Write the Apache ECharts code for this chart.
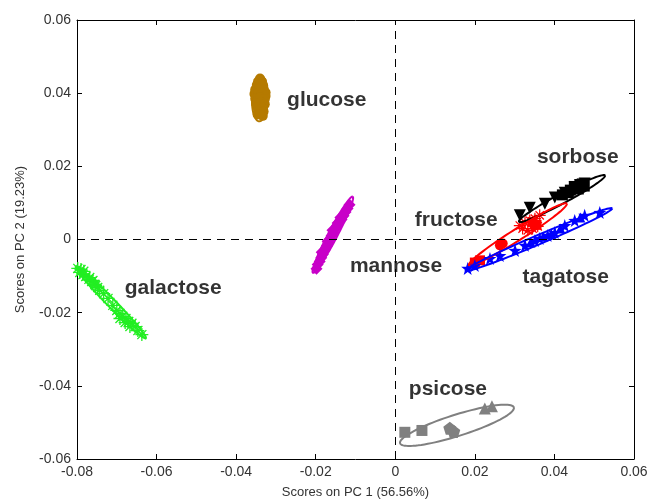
<!DOCTYPE html>
<html><head><meta charset="utf-8">
<script src="https://cdn.jsdelivr.net/npm/echarts@6/dist/echarts.min.js"></script>
<style>html,body{margin:0;padding:0;background:#fff}#c{width:649px;height:499px}</style>
</head><body><div id="c"></div>
<script>
// ---- data ----
const xTickValues = [-0.08, -0.06, -0.04, -0.02, 0, 0.02, 0.04, 0.06];
const yTickValues = [-0.06, -0.04, -0.02, 0, 0.02, 0.04, 0.06];
const xTitle = 'Scores on PC 1 (56.56%)';
const yTitle = 'Scores on PC 2 (19.23%)';

const galactoseScores = [[-0.0798,-0.0079],[-0.0793,-0.0090],[-0.0785,-0.0096],[-0.0778,-0.0101],[-0.0770,-0.0109],[-0.0763,-0.0115],[-0.0755,-0.0123],[-0.0748,-0.0131],[-0.0783,-0.0087],[-0.0768,-0.0104],[-0.0753,-0.0126],[-0.0743,-0.0139],[-0.0733,-0.0148],[-0.0722,-0.0161],[-0.0710,-0.0180],[-0.0700,-0.0194],[-0.0692,-0.0202],[-0.0685,-0.0210],[-0.0677,-0.0216],[-0.0670,-0.0224],[-0.0662,-0.0229],[-0.0654,-0.0238],[-0.0692,-0.0216],[-0.0679,-0.0227],[-0.0667,-0.0238],[-0.0647,-0.0249],[-0.0637,-0.0260],[-0.0790,-0.0082],[-0.0760,-0.0112]];
const glucoseScores = [[-0.0340,0.0440],[-0.0345,0.0432],[-0.0335,0.0432],[-0.0348,0.0422],[-0.0340,0.0424],[-0.0332,0.0420],[-0.0352,0.0410],[-0.0342,0.0412],[-0.0331,0.0410],[-0.0326,0.0402],[-0.0354,0.0398],[-0.0345,0.0400],[-0.0336,0.0398],[-0.0326,0.0392],[-0.0352,0.0385],[-0.0340,0.0388],[-0.0328,0.0384],[-0.0350,0.0372],[-0.0338,0.0375],[-0.0328,0.0370],[-0.0347,0.0362],[-0.0334,0.0360],[-0.0344,0.0352],[-0.0331,0.0350],[-0.0346,0.0342],[-0.0333,0.0338]];
const mannoseScores = [[-0.0198,-0.0080],[-0.0195,-0.0068],[-0.0190,-0.0060],[-0.0186,-0.0050],[-0.0182,-0.0040],[-0.0178,-0.0030],[-0.0172,-0.0018],[-0.0168,-0.0008],[-0.0163,0.0002],[-0.0160,0.0010],[-0.0155,0.0020],[-0.0150,0.0030],[-0.0146,0.0038],[-0.0140,0.0048],[-0.0135,0.0055],[-0.0130,0.0065],[-0.0125,0.0075],[-0.0120,0.0085],[-0.0115,0.0095],[-0.0158,0.0025],[-0.0145,0.0045],[-0.0170,-0.0005],[-0.0185,-0.0035],[-0.0138,0.0060]];
const sorboseTriangles = [[0.0313,0.0066],[0.0338,0.0087],[0.0376,0.0098],[0.0401,0.0115],[0.0426,0.0128],[0.0451,0.0142],[0.0464,0.0148],[0.0476,0.0153]];
const sorboseSquares = [[0.0440,0.0135],[0.0455,0.0140],[0.0465,0.0150],[0.0470,0.0152],[0.0450,0.0145],[0.0435,0.0128],[0.0420,0.0122],[0.0460,0.0138],[0.0475,0.0146]];
const fructoseSquares = [[0.0200,-0.0063],[0.0213,-0.0057],[0.0355,0.0040],[0.0345,0.0048]];
const fructoseCircles = [[0.0263,-0.0016],[0.0270,-0.0011]];
const fructoseStars = [[0.0313,0.0038],[0.0326,0.0046],[0.0338,0.0052],[0.0351,0.0057],[0.0363,0.0066],[0.0333,0.0025],[0.0358,0.0036],[0.0345,0.0030],[0.0320,0.0030]];
const tagatoseStars = [[0.0182,-0.0079],[0.0200,-0.0071],[0.0238,-0.0052],[0.0263,-0.0044],[0.0301,-0.0030],[0.0326,-0.0016],[0.0351,-0.0003],[0.0363,0.0003],[0.0383,0.0011],[0.0401,0.0019],[0.0426,0.0038],[0.0451,0.0052],[0.0476,0.0066],[0.0514,0.0074]];
const tagatoseTriangles = [[0.0340,-0.0008],[0.0372,0.0008],[0.0392,0.0016],[0.0415,0.0030],[0.0465,0.0060]];
const psicoseSquares = [[0.0024,-0.0527],[0.0067,-0.0522]];
const psicoseDiamonds = [[0.0137,-0.0516],[0.0147,-0.0525]];
const psicoseTriangles = [[0.0225,-0.0462],[0.0243,-0.0456]];

// ellipses: [centerX, centerY, majorEndX, majorEndY, minorSemiAxis]
const galactoseEllipse = [-0.0715, -0.0172, -0.0627, -0.0270, 0.0011];
const glucoseEllipse = [-0.0340, 0.0385, -0.0338, 0.0447, 0.0021];
const mannoseEllipse = [-0.0157, 0.0013, -0.0107, 0.0117, 0.0012];
const sorboseEllipse = [0.0419, 0.0112, 0.0527, 0.0175, 0.0013];
const fructoseEllipse = [0.0308, 0.0014, 0.0431, 0.0098, 0.0015];
const tagatoseEllipse = [0.0361, 0.0000, 0.0545, 0.0085, 0.0012];
const psicoseEllipse = [0.0155, -0.0508, 0.0298, -0.0459, 0.0028];

const sugarNames = ['glucose','galactose','mannose','fructose','sorbose','tagatose','psicose'];
const labelAnchors = [[-0.0272,0.0380],[-0.0680,-0.0134],[-0.0114,-0.0074],[0.0049,0.0052],[0.0356,0.0224],[0.0320,-0.0104],[0.0034,-0.0410]];

// ---- styles ----
const FONT = 'Liberation Sans, Arial, sans-serif';
const ASTERISK = 'path://M-0.9,-9H0.9V9H-0.9Z M-9,-0.9H9V0.9H-9Z M-6.9,-5.6L-5.6,-6.9L6.9,5.6L5.6,6.9Z M5.6,-6.9L6.9,-5.6L-5.6,6.9L-6.9,5.6Z';
const STAR = 'path://M0,-10L2.35,-3.24L9.51,-3.09L3.8,1.24L5.88,8.09L0,4L-5.88,8.09L-3.8,1.24L-9.51,-3.09L-2.35,-3.24Z';

function pts(name, data, color, symbol, size){
  return {type:'scatter', name, data, symbol, symbolSize:size, itemStyle:{color, opacity:1}, z:3, silent:true, animation:false};
}
function ell(name, e, color){
  return {type:'custom', name, data:[e], z:4, silent:true, animation:false,
    encode:{x:[0,2], y:[1,3]},
    renderItem:(params, api)=>{
      const c = api.coord([api.value(0), api.value(1)]);
      const p = api.coord([api.value(2), api.value(3)]);
      const s = api.size([api.value(4), api.value(4)]);
      const b = (s[0]+s[1])/2;
      const dx=p[0]-c[0], dy=p[1]-c[1];
      const a=Math.hypot(dx,dy), ux=dx/a, uy=dy/a;
      const poly=[];
      for(let i=0;i<=90;i++){
        const t=i/90*2*Math.PI;
        poly.push([c[0]+a*Math.cos(t)*ux - b*Math.sin(t)*uy, c[1]+a*Math.cos(t)*uy + b*Math.sin(t)*ux]);
      }
      return {type:'polyline', shape:{points:poly}, style:{fill:null, stroke:color, lineWidth:2}};
    }};
}

const GREEN='#22ee22', BROWN='#b57a00', MAG='#c800c8', RED='#ff0000', BLUE='#0000ff', BLACK='#000000', GRAY='#808080';

const series = [
  pts('galactose', galactoseScores, GREEN, ASTERISK, 13),
  pts('glucose', glucoseScores, BROWN, 'circle', 10),
  pts('mannose', mannoseScores, MAG, 'diamond', 12),
  pts('sorbose', sorboseTriangles, BLACK, 'path://M-5,-4L5,-4L0,5Z', 12),
  pts('sorbose', sorboseSquares, BLACK, 'rect', 11),
  pts('fructose', fructoseSquares, RED, 'rect', 10),
  pts('fructose', fructoseCircles, RED, 'circle', 10),
  pts('fructose', fructoseStars, RED, ASTERISK, 12),
  pts('tagatose', tagatoseStars, BLUE, STAR, 13),
  pts('tagatose', tagatoseTriangles, BLUE, 'triangle', 10),
  pts('psicose', psicoseSquares, GRAY, 'rect', 11),
  pts('psicose', psicoseDiamonds, GRAY, 'path://M0,-6L5.7,-1.9L3.5,4.9L-3.5,4.9L-5.7,-1.9Z', 13),
  pts('psicose', psicoseTriangles, GRAY, 'triangle', 12),
  ell('galactose', galactoseEllipse, GREEN),
  ell('glucose', glucoseEllipse, BROWN),
  ell('mannose', mannoseEllipse, MAG),
  ell('sorbose', sorboseEllipse, BLACK),
  ell('fructose', fructoseEllipse, RED),
  ell('tagatose', tagatoseEllipse, BLUE),
  ell('psicose', psicoseEllipse, GRAY),
  {type:'scatter', data: labelAnchors.map((p,i)=>({value:p, name:sugarNames[i]})), symbolSize:0, z:6, silent:true, animation:false,
   label:{show:true, position:'right', distance:0, formatter:'{b}', color:'#000', textBorderWidth:0, fontFamily:FONT, fontWeight:'bold', fontSize:21}},
  {type:'line', data:[], z:2, silent:true, animation:false,
   markLine:{symbol:'none', silent:true, animation:false, label:{show:false},
     lineStyle:{color:'#000', type:[8,6], width:1},
     data:[{xAxis:0},{yAxis:0}]}}
];

const axisCommon = {
  type:'value', splitLine:{show:false},
  axisLine:{show:true, onZero:false, lineStyle:{color:'#000', width:1}},
  axisTick:{show:true, inside:true, length:5, lineStyle:{color:'#000'}}
};
const tickLabel = {color:'#333', fontFamily:FONT, fontSize:14, margin:6, formatter:v=>v===0?'0':v.toFixed(2)};
const titleStyle = {color:'#333', fontFamily:FONT, fontSize:13};

const chart = echarts.init(document.getElementById('c'), null, {renderer:'canvas'});
chart.setOption({
  backgroundColor:'#fff',
  animation:false,
  grid:{left:77, right:15, top:20, bottom:40, show:false, containLabel:false, outerBoundsMode:'none'},
  xAxis:[
    Object.assign({}, axisCommon, {position:'bottom', min:xTickValues[0], max:xTickValues[xTickValues.length-1], interval:0.02,
      axisLabel:tickLabel, name:xTitle, nameLocation:'middle', nameGap:27, nameTextStyle:titleStyle}),
    Object.assign({}, axisCommon, {position:'top', min:xTickValues[0], max:xTickValues[xTickValues.length-1], interval:0.02, axisLabel:{show:false}})
  ],
  yAxis:[
    Object.assign({}, axisCommon, {position:'left', min:yTickValues[0], max:yTickValues[yTickValues.length-1], interval:0.02,
      axisLabel:tickLabel, name:yTitle, nameLocation:'middle', nameGap:50, nameTextStyle:titleStyle}),
    Object.assign({}, axisCommon, {position:'right', min:yTickValues[0], max:yTickValues[yTickValues.length-1], interval:0.02, axisLabel:{show:false}})
  ],
  series: series
});
</script>
</body></html>
